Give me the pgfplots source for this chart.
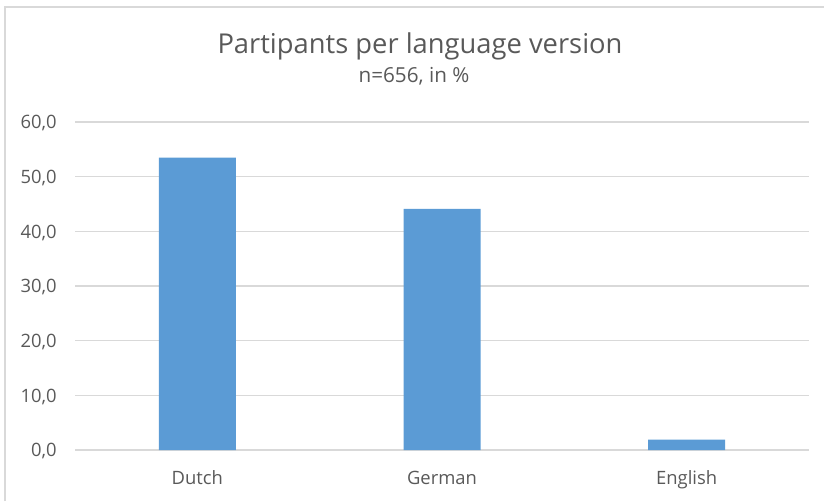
\documentclass[border=0pt]{standalone}
\usepackage{fontspec}
\setmainfont{Open Sans}
\usepackage{pgfplots}
\pgfplotsset{compat=1.18}
\definecolor{barblue}{HTML}{5B9BD5}
\definecolor{txtgray}{HTML}{595959}
\definecolor{gridgray}{HTML}{D9D9D9}
\begin{document}
\begin{tikzpicture}
% canvas: 1px of the reference = 0.75pt, origin = lower left of plot area
\useasboundingbox (-56.25pt,-38.25pt) rectangle (561.75pt,337.5pt);
\draw[gridgray, line width=1.5pt] (-52.5pt,-38.25pt) -- (-52.5pt,332.6pt) -- (561.75pt,332.6pt);
\begin{axis}[
    at={(0,0)}, anchor=south west,
    scale only axis,
    width=550.5pt, height=246pt,
    ybar, bar width=57.75pt,
    xmin=-0.5, xmax=2.5,
    ymin=0, ymax=60,
    xtick=data,
    xticklabels={Dutch,German,English},
    ytick={0,10,...,60},
    axis line style={draw=none},
    major tick length=0pt,
    ymajorgrids, grid style={gridgray, line width=0.9pt},
    /pgf/number format/.cd, fixed, fixed zerofill, precision=1, use comma,
    assume math mode=true,
    /pgfplots/.cd,
    yticklabel style={font=\fontsize{13.8}{15}\selectfont, text=txtgray, anchor=east,
        inner sep=0pt, text depth=0pt, xshift=-13.5pt},
    xticklabel style={font=\fontsize{13.8}{15}\selectfont, text=txtgray, anchor=base,
        inner sep=0pt, yshift=-25.5pt},
]
\addplot[fill=barblue, draw=none] coordinates {
    (0, 53.5)
    (1, 44.1)
    (2, 1.9)
};
\end{axis}
\node[anchor=base, text=txtgray, font=\fontsize{20.5}{22}\selectfont, inner sep=0pt]
    at (258.75pt,297.75pt) {Partipants per language version};
\node[anchor=base, text=txtgray, font=\fontsize{15.5}{17}\selectfont, inner sep=0pt]
    at (254.25pt,276pt) {n=656, in \%};
\end{tikzpicture}
\end{document}
